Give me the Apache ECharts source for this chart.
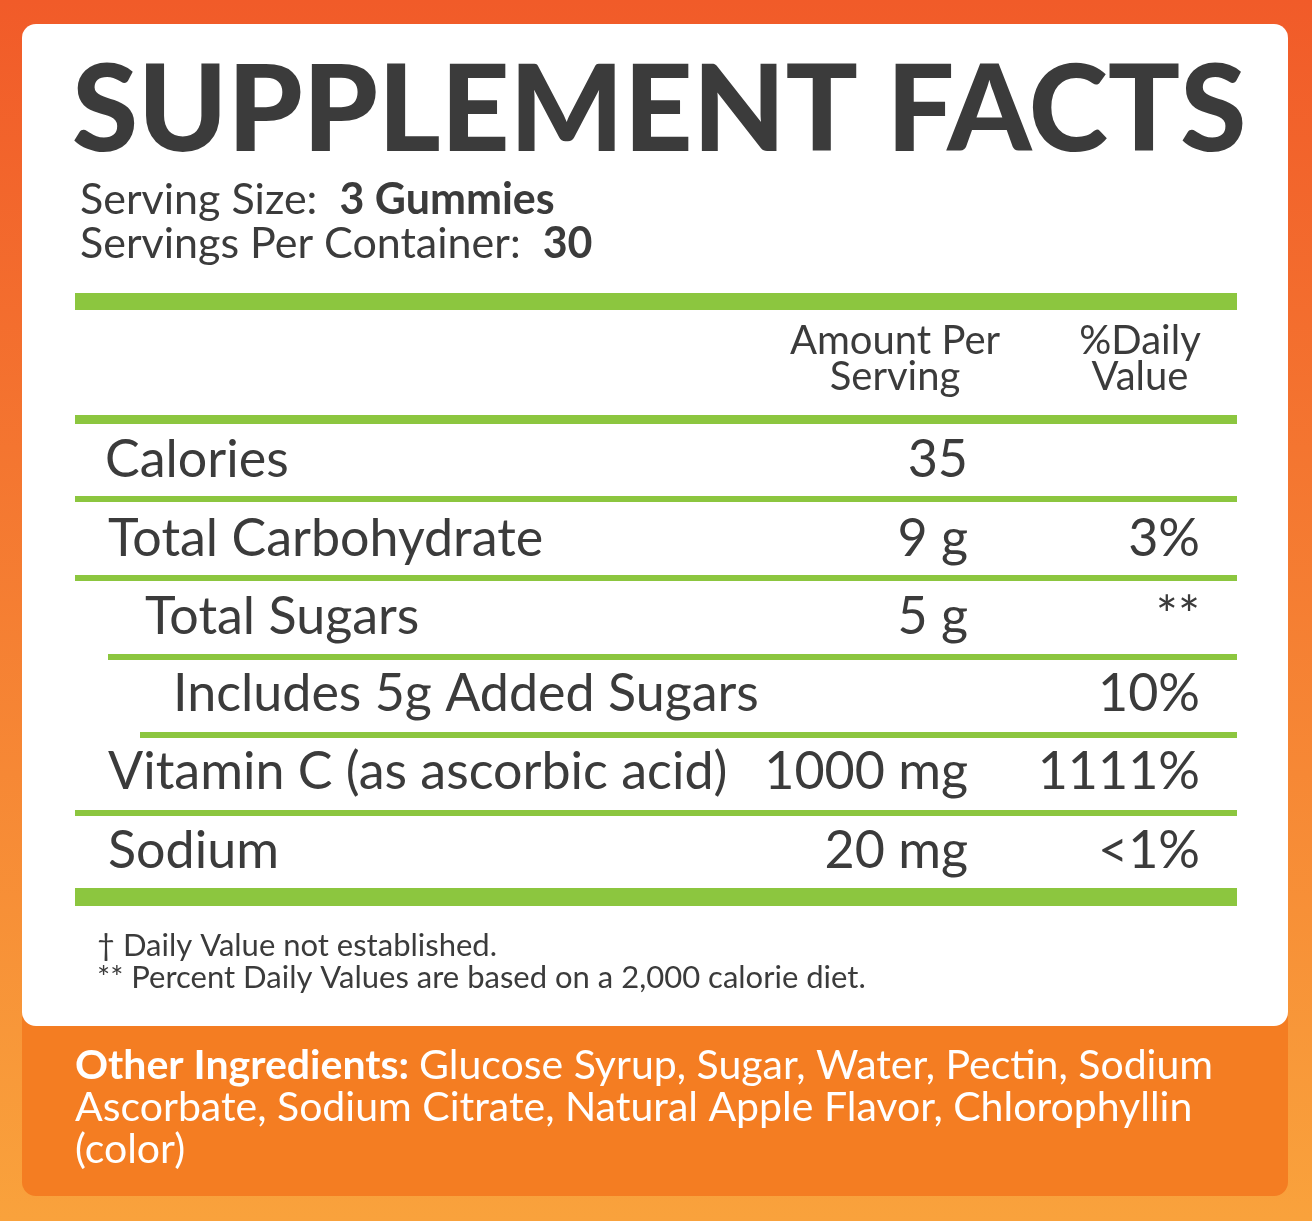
<!DOCTYPE html>
<html><head><meta charset="utf-8">
<script src="https://cdn.jsdelivr.net/npm/echarts@6/dist/echarts.min.js"></script>
<style>html,body{margin:0;padding:0}#c{width:1312px;height:1221px}</style>
</head><body><div id="c"></div>
<script>
const title = "SUPPLEMENT FACTS";
const servingLines = [["Serving Size:  ", "3 Gummies"], ["Servings Per Container:  ", "30"]];
const headers = [["Amount Per", "Serving"], ["%Daily", "Value"]];
const nutrients = ["Calories", "Total Carbohydrate", "Total Sugars", "Includes 5g Added Sugars", "Vitamin C (as ascorbic acid)", "Sodium"];
const amounts = ["35", "9 g", "5 g", "", "1000 mg", "20 mg"];
const dailyValues = ["", "3%", "**", "10%", "1111%", "<1%"];
const indents = [0, 0, 1, 2, 0, 0];
const footnotes = ["† Daily Value not established.", "** Percent Daily Values are based on a 2,000 calorie diet."];
const ingredientsLabel = "Other Ingredients: ";
const ingredientsLines = ["Glucose Syrup, Sugar, Water, Pectin, Sodium", "Ascorbate, Sodium Citrate, Natural Apple Flavor, Chlorophyllin", "(color)"];

const dark = '#3b3b3b', green = '#8cc63f', F = 'Lato';
const g = [];
g.push({type:'rect', shape:{x:0,y:0,width:1312,height:1221}, style:{fill:{type:'linear',x:0,y:0,x2:0,y2:1,colorStops:[{offset:0,color:'#f15b29'},{offset:1,color:'#f9a23c'}]}}});
g.push({type:'rect', shape:{x:22,y:900,width:1266,height:296,r:[0,0,14,14]}, style:{fill:'#f47d22'}});
g.push({type:'rect', shape:{x:22,y:24,width:1266,height:1002,r:14}, style:{fill:'#fff'}});
g.push({type:'text', x:72, y:112, style:{text:title, font:`900 120px ${F}`, fill:dark, textVerticalAlign:'middle'}});
servingLines.forEach((s,i)=>{
  g.push({type:'text', x:80, y:200+i*44, style:{text:'{a|'+s[0]+'}{b|'+s[1]+'}', textVerticalAlign:'middle', rich:{a:{font:`400 43px ${F}`,fill:dark},b:{font:`700 43px ${F}`,fill:dark}}}});
});
function line(x1,y,h){ g.push({type:'rect', shape:{x:x1,y:y,width:1237-x1,height:h}, style:{fill:green}}); }
line(75,293,17);
headers.forEach((h,i)=>{ const cx=[895,1140][i]; h.forEach((t,j)=>g.push({type:'text', x:cx, y:341+j*36, style:{text:t, font:`400 40px ${F}`, fill:dark, textAlign:'center', textVerticalAlign:'middle'}})); });
line(75,415,9);
const rowY=[460,539,617,694,772,851], lineY=[496,575,654,732,810];
const indX=[108,145,173];
nutrients.forEach((n,i)=>{
  const x = i===0?105:indX[indents[i]];
  g.push({type:'text', x:x, y:rowY[i], style:{text:n, font:`400 52px ${F}`, fill:dark, textVerticalAlign:'middle'}});
  g.push({type:'text', x:968, y:rowY[i], style:{text:amounts[i], font:`400 52px ${F}`, fill:dark, textAlign:'right', textVerticalAlign:'middle'}});
  g.push({type:'text', x:1200, y:rowY[i], style:{text:dailyValues[i], font:`400 52px ${F}`, fill:dark, textAlign:'right', textVerticalAlign:'middle'}});
});
const lineX=[75,75,108,140,75];
lineY.forEach((y,i)=>line(lineX[i],y,6));
line(75,888,18);
footnotes.forEach((t,i)=>g.push({type:'text', x:97, y:946+i*32, style:{text:t, font:`400 31px ${F}`, fill:dark, textVerticalAlign:'middle'}}));
ingredientsLines.forEach((t,i)=>{
  const txt = i===0 ? '{b|'+ingredientsLabel+'}{a|'+t+'}' : '{a|'+t+'}';
  g.push({type:'text', x:75, y:1066+i*42, style:{text:txt, textVerticalAlign:'middle', rich:{a:{font:`400 41px ${F}`,fill:'#fff'},b:{font:`700 41px ${F}`,fill:'#fff'}}}});
});
const chart = echarts.init(document.getElementById('c'));
chart.setOption({graphic:{elements:g}});
</script></body></html>
